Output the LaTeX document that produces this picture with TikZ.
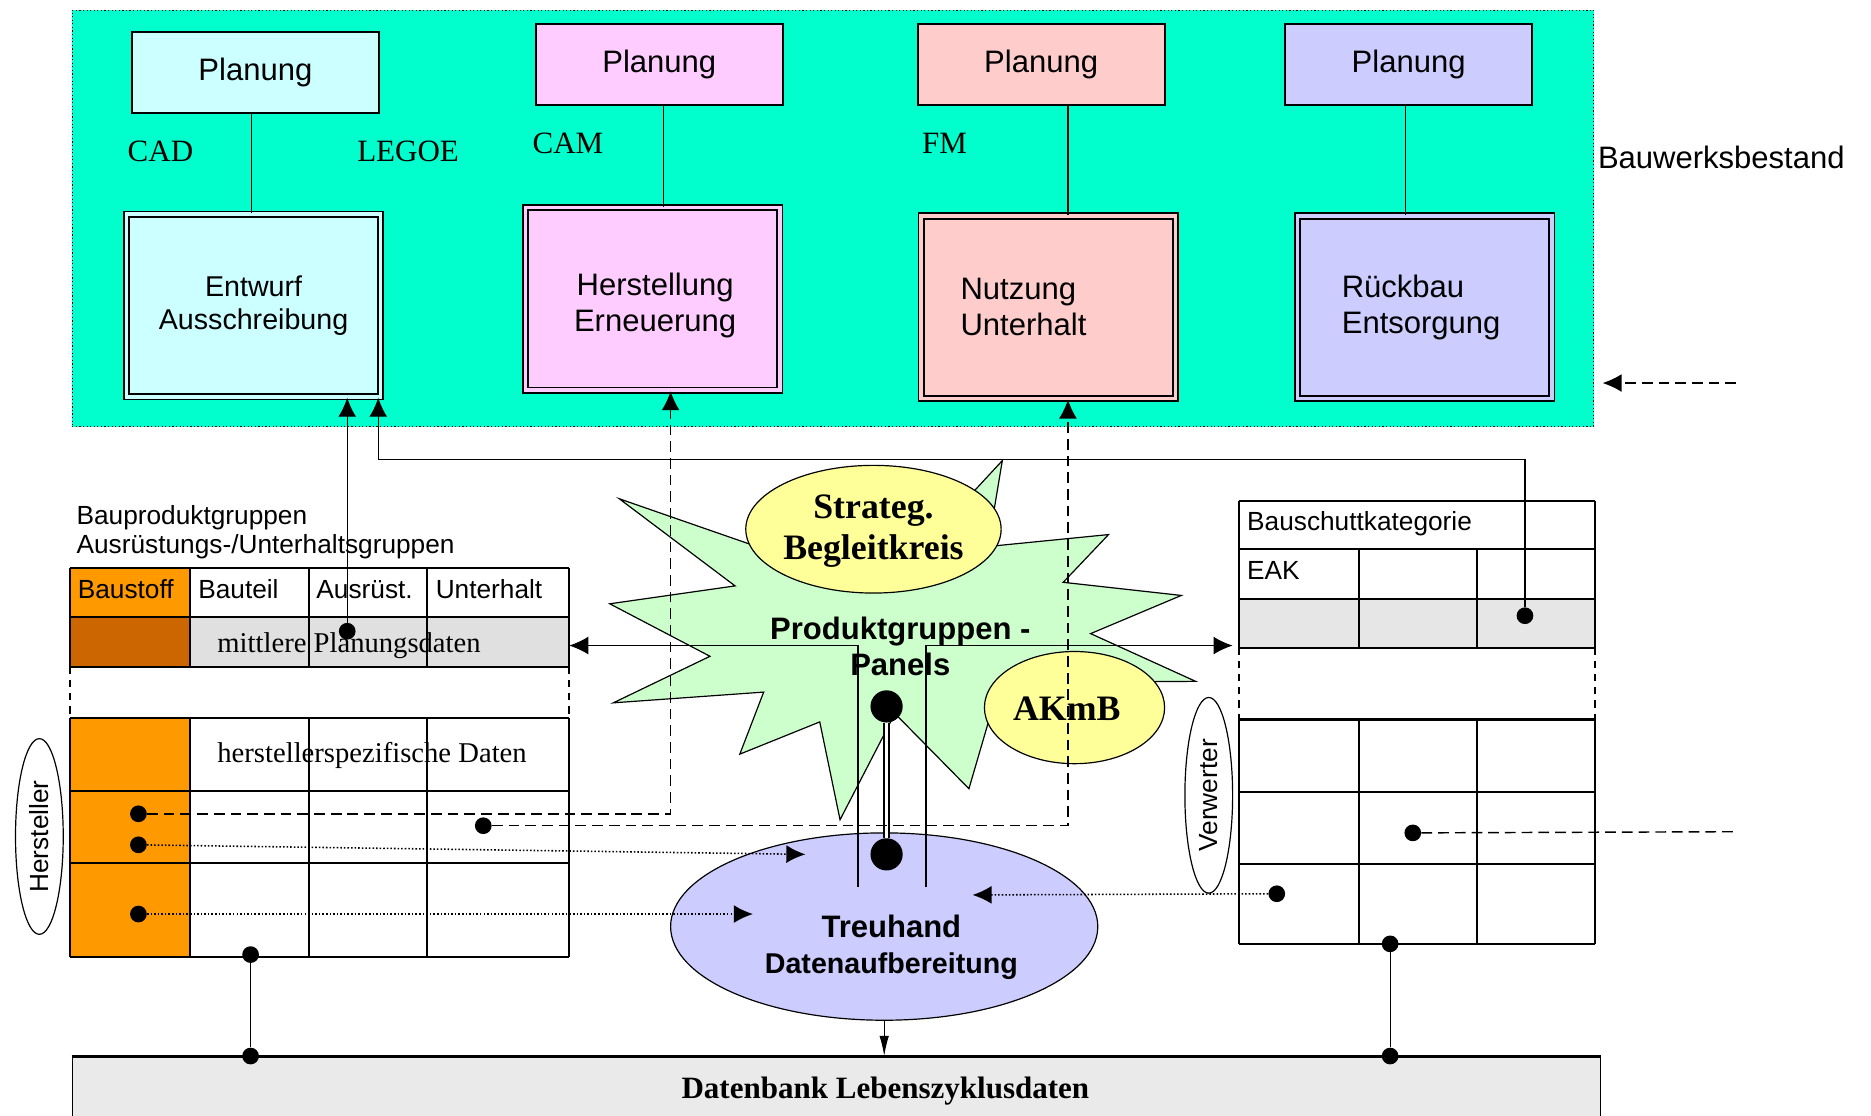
\documentclass[tikz,border=0pt]{standalone}
\usepackage{fontspec}
\setmainfont{Liberation Serif}
\setsansfont{Liberation Sans}
\usepackage{tikz}
\usetikzlibrary{arrows.meta,shapes.geometric,positioning}

\definecolor{bestandgruen}{RGB}{0,255,204}
\definecolor{entwurfblau}{RGB}{204,255,255}
\definecolor{herstrosa}{RGB}{255,204,255}
\definecolor{nutzrot}{RGB}{255,204,204}
\definecolor{rueckviolett}{RGB}{204,204,255}
\definecolor{stofforange}{RGB}{255,153,0}
\definecolor{stoffbraun}{RGB}{204,102,0}
\definecolor{panelgruen}{RGB}{204,255,204}
\definecolor{kreisgelb}{RGB}{255,255,153}
\definecolor{zeilengrau}{RGB}{224,224,224}
\definecolor{eakgrau}{RGB}{230,230,230}
\definecolor{dbgrau}{RGB}{234,234,234}

\newcommand{\sfgross}{\sffamily\fontsize{26pt}{30pt}\selectfont}
\newcommand{\sfmittel}{\sffamily\fontsize{24pt}{28pt}\selectfont}
\newcommand{\sfklein}{\sffamily\fontsize{22pt}{25pt}\selectfont}
\newcommand{\rmgross}{\rmfamily\fontsize{26pt}{30pt}\selectfont}
\newcommand{\rmmittel}{\rmfamily\fontsize{24pt}{28pt}\selectfont}
\newcommand{\rmfett}{\rmfamily\bfseries\fontsize{30pt}{35pt}\selectfont}

\tikzset{
  planbox/.style={draw, line width=1.5pt, minimum width=207pt, minimum height=68pt, font=\sfgross},
  phasebox/.style={draw, line width=1.5pt, double distance=3pt, minimum width=213pt,
    minimum height=153pt, align=center, font=\sfgross},
  lbl/.style={inner sep=0pt},
  punkt/.style={circle, fill=black, inner sep=0pt, minimum size=14pt},
  grosspunkt/.style={circle, fill=black, inner sep=0pt, minimum size=27pt},
  pfeil/.style={-{Latex[length=16pt,width=15pt]}},
  strich/.style={dash pattern=on 9pt off 5pt, line width=1.2pt},
  punktiert/.style={dash pattern=on 1.3pt off 1.7pt, line width=1.3pt},
  tabline/.style={line width=1.8pt},
  rolle/.style={draw, ellipse, rotate=90, minimum width=164pt, minimum height=40pt,
    inner sep=0pt, line width=1pt, font=\sfklein},
}

\begin{document}
\begin{tikzpicture}[x=1pt, y=-1pt]
  \useasboundingbox (0,0) rectangle (1568,935);

  % Bauwerksbestand
  \node[draw, dotted, line width=1pt, fill=bestandgruen, minimum width=1275pt, minimum height=349pt,
    anchor=north west, inner sep=0pt] (bestand) at (60,8) {};
  \node[lbl, anchor=west, font=\sfgross] (bestandtxt) at (1339,132) {Bauwerksbestand};

  % Planung
  \node[planbox, fill=entwurfblau] (plan1) at (214,61) {Planung};
  \node[planbox, fill=herstrosa] (plan2) at (552.5,54) {Planung};
  \node[planbox, fill=nutzrot] (plan3) at (872.5,54) {Planung};
  \node[planbox, fill=rueckviolett] (plan4) at (1180.5,54) {Planung};

  % phases
  \node[phasebox, fill=entwurfblau, double=entwurfblau, font=\sfmittel] (phase1) at (212.5,256) {Entwurf\\Ausschreibung};
  \node[phasebox, fill=herstrosa, double=herstrosa] (phase2) at (547,250.5) {};
  \node[lbl, align=center, font=\sfgross] (phase2txt) at (549,256) {Herstellung\\Erneuerung};
  \node[phasebox, fill=nutzrot, double=nutzrot, text width=147pt, align=left] (phase3) at (878.5,257.5) {Nutzung\\Unterhalt};
  \node[phasebox, fill=rueckviolett, double=rueckviolett, text width=139pt, align=left] (phase4) at (1194,257.5) {Rückbau\\Entsorgung};

  \coordinate (v1) at (211,0);
  \coordinate (v2) at (556,0);
  \coordinate (v3) at (895,0);
  \coordinate (v4) at (1178,0);
  \foreach \i in {1,...,4}
    \draw[line width=1pt] (plan\i.south -| v\i) -- (phase\i.north -| v\i);

  \node[lbl, font=\rmgross] (cad) at (134.5,127) {CAD};
  \node[lbl, font=\rmgross] (legoe) at (342,127) {LEGOE};
  \node[lbl, font=\rmgross] (cam) at (476,120) {CAM};
  \node[lbl, font=\rmgross] (fm) at (791.5,120) {FM};

  % Produktgruppen-Panels
  \filldraw[fill=panelgruen, line width=1pt] (840,386) -- (828,458) -- (929,448) -- (891,488)
    -- (990,499) -- (914,531) -- (1002,571) -- (838,572) -- (812,661) -- (750,598)
    -- (704,687) -- (687,605) -- (620,632) -- (640,580) -- (514,589) -- (595,550)
    -- (511,506) -- (616,491) -- (519,418) -- (660,467) -- (790,440) -- cycle;
  \node[draw, ellipse, fill=kreisgelb, line width=1pt, minimum width=214pt, minimum height=107pt,
    inner sep=0pt] (strateg) at (732,443.5) {};
  \node[lbl, align=center, font=\rmfett] (strategtxt) at (732,445) {Strateg.\\Begleitkreis};
  \node[draw, ellipse, fill=kreisgelb, line width=1pt, minimum width=151pt, minimum height=94pt,
    inner sep=0pt] (akmb) at (900.5,593) {};
  \node[lbl, font=\rmfett] (akmbtxt) at (894,594) {AKmB};
  \node[lbl, align=center, font=\sffamily\bfseries\fontsize{26pt}{30pt}\selectfont] (panels) at (754.5,542) {Produktgruppen -\\Panels};

  % Treuhand
  \node[draw, ellipse, fill=rueckviolett, line width=1pt, minimum width=358pt, minimum height=157pt,
    inner sep=0pt] (treuhand) at (741,776.5) {};
  \node[lbl, align=center, font=\sffamily\bfseries\fontsize{24pt}{30pt}\selectfont] (treuhandtxt) at (747,794)
    {{\fontsize{26pt}{30pt}\selectfont Treuhand}\\Datenaufbereitung};

  \node[grosspunkt] (pktpanel) at (743,592) {};
  \node[grosspunkt] (pkttreu) at (743,716) {};
  \draw[double=white, double distance=3pt, line width=1.5pt] (pktpanel) -- (pkttreu);

  \coordinate (treuL) at (719,743);
  \coordinate (treuR) at (776,743);
  \coordinate (tabL) at (477,541);
  \coordinate (tabR) at (1033,541);
  \draw[pfeil, line width=1pt] (treuL) |- (tabL);
  \draw[pfeil, line width=1pt] (treuR) |- (tabR);

  % Bauproduktgruppen table
  \node[lbl, anchor=west, align=left, font=\sfklein] (bpg) at (64,446) {Bauproduktgruppen\\Ausrüstungs-/Unterhaltsgruppen};
  \fill[stofforange] (59,476) rectangle (159,517);
  \fill[stoffbraun] (59,517) rectangle (159,559);
  \fill[zeilengrau] (159,517) rectangle (477,559);
  \fill[stofforange] (59,602) rectangle (159,802);
  \foreach \y in {476,517,559,602,663,723,802}
    \draw[tabline] (59,\y) -- (477,\y);
  \foreach \x in {59,159,259,358,477} {
    \draw[tabline] (\x,476) -- (\x,559);
    \draw[tabline] (\x,602) -- (\x,802);
  }
  \foreach \x in {59,477}
    \draw[tabline, dash pattern=on 6pt off 5pt] (\x,559) -- (\x,602);
  \node[lbl, anchor=west, font=\sfklein] (baustoff) at (65,494) {Baustoff};
  \node[lbl, anchor=west, font=\sfklein] (bauteil) at (166,494) {Bauteil};
  \node[lbl, anchor=west, font=\sfklein] (ausruest) at (265,494) {Ausrüst.};
  \node[lbl, anchor=west, font=\sfklein] (unterhalt) at (365,494) {Unterhalt};
  \node[lbl, anchor=west, font=\rmmittel] (mittlere) at (182,541) {mittlere Planungsdaten};
  \node[lbl, anchor=west, font=\rmmittel] (herstspez) at (182,633) {herstellerspezifische Daten};
  \node[rolle] (hersteller) at (33,701) {Hersteller};

  % Bauschutt table
  \fill[eakgrau] (1038,502) rectangle (1337,543);
  \foreach \y in {420,460,502,543,603,664,724,791}
    \draw[tabline] (1038,\y) -- (1337,\y);
  \foreach \x in {1038,1337} \draw[tabline] (\x,420) -- (\x,460);
  \foreach \x in {1038,1139,1238,1337} {
    \draw[tabline] (\x,460) -- (\x,543);
    \draw[tabline] (\x,603) -- (\x,791);
  }
  \foreach \x in {1038,1337}
    \draw[tabline, dash pattern=on 6pt off 5pt] (\x,543) -- (\x,603);
  \node[lbl, anchor=west, font=\sfklein] (bauschutt) at (1045,439) {Bauschuttkategorie};
  \node[lbl, anchor=west, font=\sfklein] (eak) at (1045,478) {EAK};
  \node[rolle] (verwerter) at (1013,666.5) {Verwerter};

  % Datenbank
  \node[draw, fill=dbgrau, line width=1pt, minimum width=1281pt, minimum height=56pt,
    anchor=north west, inner sep=0pt] (datenbank) at (60,885) {};
  \draw[line width=2.5pt] (datenbank.north west) -- (datenbank.north east);
  \node[lbl, font=\rmfamily\bfseries\fontsize{26pt}{30pt}\selectfont] (dbtxt) at (742,914) {Datenbank Lebenszyklusdaten};

  % dots
  \node[punkt] (pktplan) at (291,529) {};
  \node[punkt] (pkth1) at (116,682) {};
  \node[punkt] (pkth2) at (116,708) {};
  \node[punkt] (pkth3) at (116,766) {};
  \node[punkt] (pkth4) at (405,692) {};
  \node[punkt] (pkthdb) at (210,800) {};
  \node[punkt] (pkteak) at (1278,516) {};
  \node[punkt] (pktv1) at (1184,698) {};
  \node[punkt] (pktv2) at (1070,749) {};
  \node[punkt] (pktvdb) at (1165,791) {};
  \node[punkt] (pktdb1) at (210,885) {};
  \node[punkt] (pktdb2) at (1165,885) {};

  % connectors
  \draw[pfeil, line width=1pt] (pktplan) -- (pktplan |- phase1.south);
  \coordinate (knick) at (317,385);
  \draw[pfeil, line width=1pt] (pkteak) |- (knick) -- (knick |- phase1.south);
  \coordinate (v2u) at (562,0);
  \draw[pfeil, strich] (pkth1) -- (pkth1 -| v2u) -- (v2u |- phase2.south);
  \draw[pfeil, strich] (pkth4) -- (pkth4 -| v3) -- (v3 |- phase3.south);
  \coordinate (ein1) at (675,716);
  \coordinate (ein2) at (631,766);
  \coordinate (ein3) at (815,750);
  \draw[pfeil, punktiert] (pkth2) -- (ein1);
  \draw[pfeil, punktiert] (pkth3) -- (ein2);
  \draw[pfeil, punktiert] (pktv2) -- (ein3);
  \coordinate (aus) at (1455,697);
  \draw[strich] (pktv1) -- (aus);
  \coordinate (zufluss) at (1455,321);
  \draw[pfeil, strich, shorten >=7pt] (zufluss) -- (zufluss -| bestand.east);
  \draw[-{Latex[length=17pt,width=8pt]}, line width=1pt] (treuhand.south) -- (treuhand.south |- datenbank.north);
  \draw[line width=1pt] (pkthdb) -- (pktdb1);
  \draw[line width=1pt] (pktvdb) -- (pktdb2);
\end{tikzpicture}
\end{document}
